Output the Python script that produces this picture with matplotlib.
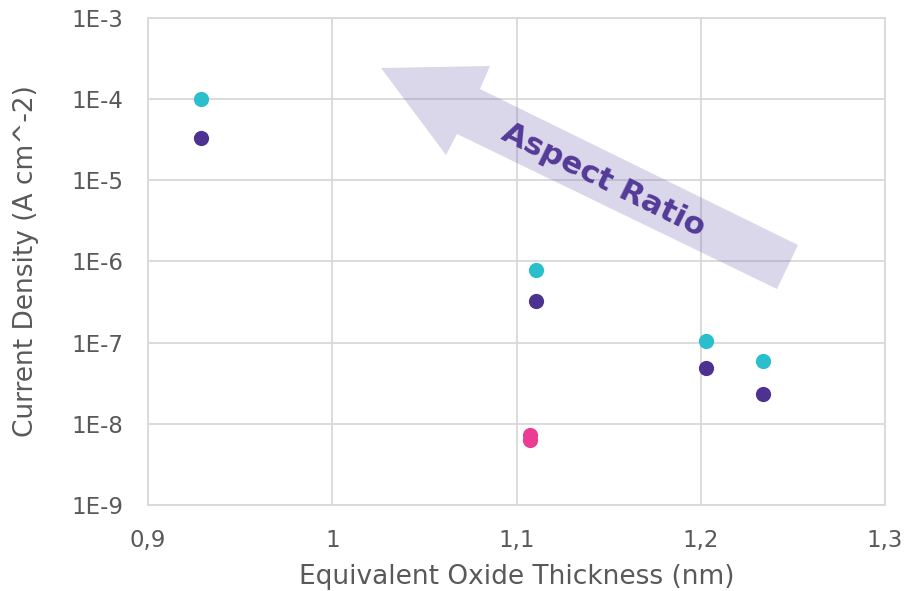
import matplotlib
matplotlib.use("Agg")
import matplotlib.pyplot as plt
from matplotlib.patches import Polygon
from matplotlib.ticker import FixedLocator, FixedFormatter

# Data
cyan_x = [0.9287, 1.1105, 1.2027, 1.234]
cyan_y = [1.0e-4, 7.8e-7, 1.05e-7, 6.0e-8]
purple_x = [0.9287, 1.1105, 1.2027, 1.234]
purple_y = [3.3e-5, 3.3e-7, 4.9e-8, 2.3e-8]
pink_x = [1.1072, 1.1072]
pink_y = [7.3e-9, 6.35e-9]

x_ticks = [0.9, 1.0, 1.1, 1.2, 1.3]
x_tick_labels = ["0,9", "1", "1,1", "1,2", "1,3"]
y_ticks = [1e-9, 1e-8, 1e-7, 1e-6, 1e-5, 1e-4, 1e-3]
y_tick_labels = ["1E-9", "1E-8", "1E-7", "1E-6", "1E-5", "1E-4", "1E-3"]

W, H = 908, 591
fig = plt.figure(figsize=(W / 100, H / 100), dpi=100)
ax = fig.add_axes([148 / W, 1 - 505 / H, (885 - 148) / W, (505 - 18) / H])

ax.set_yscale("log")
ax.set_xlim(0.9, 1.3)
ax.set_ylim(1e-9, 1e-3)

grid_c = "#d9d9d9"
ax.xaxis.set_major_locator(FixedLocator(x_ticks))
ax.xaxis.set_major_formatter(FixedFormatter(x_tick_labels))
ax.yaxis.set_major_locator(FixedLocator(y_ticks))
ax.yaxis.set_major_formatter(FixedFormatter(y_tick_labels))
ax.yaxis.set_minor_locator(FixedLocator([]))
ax.grid(True, color=grid_c, linewidth=1.3)
ax.set_axisbelow(True)
for s in ax.spines.values():
    s.set_color(grid_c)
    s.set_linewidth(1.3)
ax.tick_params(axis="both", length=0, labelsize=16.5, labelcolor="#595959")
ax.tick_params(axis="y", pad=18)
ax.tick_params(axis="x", pad=17)

ax.set_xlabel("Equivalent Oxide Thickness (nm)", fontsize=19, color="#595959")
ax.set_ylabel("Current Density (A cm^-2)", fontsize=19, color="#595959")
ax.xaxis.label.set_verticalalignment("center")
ax.yaxis.label.set_verticalalignment("center")
ax.xaxis.set_label_coords(0.5, (505 - 577) / 487)
ax.yaxis.set_label_coords((26 - 148) / 737, 0.5)

ms = 120
ax.scatter(cyan_x, cyan_y, s=ms, color="#2bbfcc", zorder=3, linewidths=0)
ax.scatter(purple_x, purple_y, s=ms, color="#4e3291", zorder=3, linewidths=0)
ax.scatter(pink_x, pink_y, s=ms, color="#ec3d94", zorder=3, linewidths=0)

# Arrow annotation (figure pixel coordinates)
pts = [(381, 68), (490, 66), (480, 89), (798, 245), (777, 289), (457, 134), (446, 155)]
poly = Polygon([(x / W, 1 - y / H) for x, y in pts], closed=True,
               transform=fig.transFigure, facecolor=(0.45, 0.38, 0.68), alpha=0.25,
               edgecolor="none", zorder=5)
fig.patches.append(poly)
fig.text(603 / W, 1 - 180 / H, "Aspect Ratio", rotation=-26.2, rotation_mode="anchor",
         ha="center", va="center", fontsize=22.5, fontweight="bold", color="#4b2e91")

fig.savefig("out.png", dpi=100)
